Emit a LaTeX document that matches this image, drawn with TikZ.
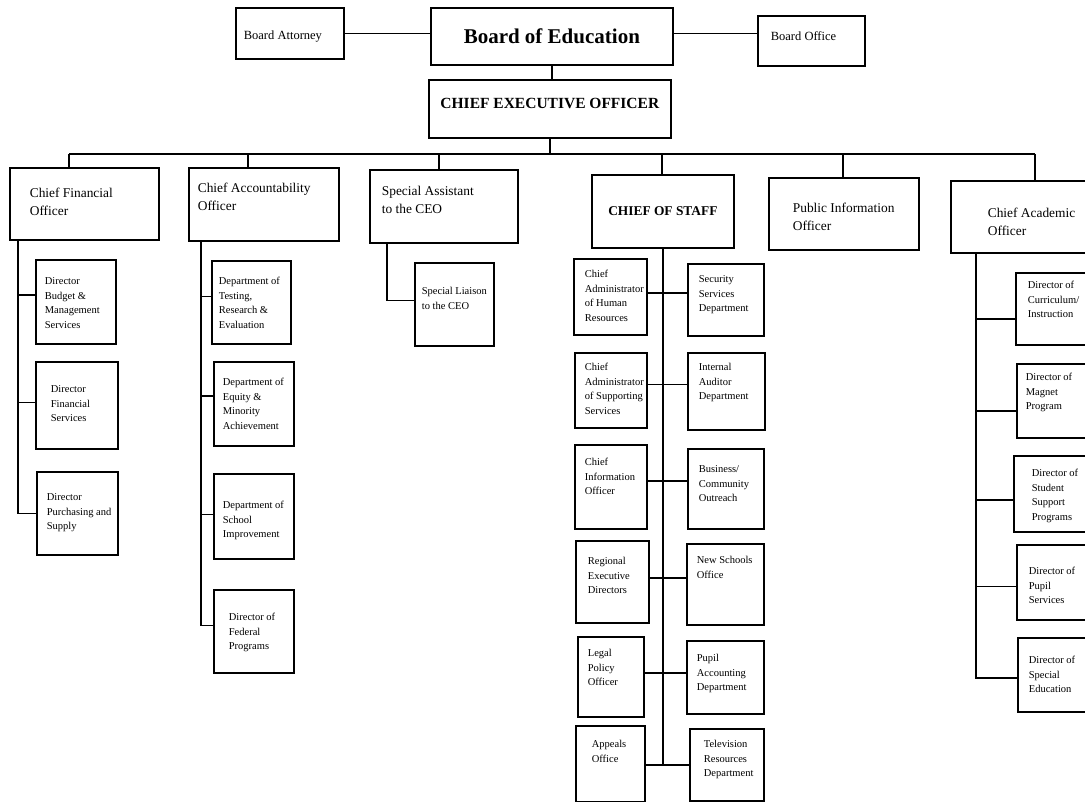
\documentclass[tikz,border=0pt]{standalone}
\usepackage{fontspec}
\setmainfont{Liberation Serif}
\usetikzlibrary{calc}

% box text: width, height, left pad, first baseline, text
\newcommand{\lcell}[5]{\vbox to #2pt{\hsize=#1pt\parindent=0pt\parskip=0pt\raggedright\leftskip=#3pt\relax
  \kern\dimexpr#4pt-\ht\strutbox\relax\strut#5\par\vss}}
\newcommand{\ccell}[4]{\vbox to #2pt{\hsize=#1pt\parindent=0pt\parskip=0pt\centering
  \kern\dimexpr#3pt-\ht\strutbox\relax\strut#4\par\vss}}

\begin{document}
\begin{tikzpicture}[
    x=1pt, y=-1pt,
    unit/.style={draw, line width=1.7pt, inner sep=0pt, anchor=north west},
    head/.style={unit, font=\fontsize{13.4}{17.5}\selectfont},
    sub/.style={unit, font=\fontsize{10.5}{14.5}\selectfont},
    link/.style={line width=1.6pt}
  ]
  \path[use as bounding box, fill=white] (0,0) rectangle (1085,802);

  % board level
  \node[unit, font=\fontsize{12.5}{15}\selectfont] (att) at (235,7) {\lcell{108}{51}{8}{32}{Board Attorney}};
  \node[unit, font=\fontsize{21}{25}\bfseries\selectfont] (boe) at (430,7) {\ccell{242}{57}{36}{Board of Education}};
  \node[unit, font=\fontsize{12.5}{15}\selectfont] (office) at (757,15) {\lcell{107}{50}{13}{25}{Board Office}};
  \node[unit, font=\fontsize{15.5}{18}\bfseries\selectfont] (ceo) at (428,79) {\ccell{242}{58}{29}{CHIEF EXECUTIVE OFFICER}};

  % officers
  \node[head] (cfo) at (9,167) {\lcell{149}{72}{20}{30}{Chief Financial\\Officer}};
  \node[head] (cao) at (188,167) {\lcell{150}{73}{9}{25}{Chief Accountability\\Officer}};
  \node[head] (sa) at (369,169) {\lcell{148}{73}{12}{26}{Special Assistant\\to the CEO}};
  \node[head, font=\fontsize{13.4}{17.5}\bfseries\selectfont] (cos) at (591,174) {\ccell{142}{73}{41}{CHIEF OF STAFF}};
  \node[head] (pio) at (768,177) {\lcell{150}{72}{24}{35}{Public Information\\Officer}};
  \node[head] (aca) at (950,180) {\lcell{145}{72}{37}{37}{Chief Academic\\Officer}};

  % finance
  \node[sub] (budget) at (35,259) {\lcell{80}{84}{9}{25}{Director\\Budget \&\\Management\\Services}};
  \node[sub] (finsvc) at (35,361) {\lcell{82}{87}{15}{31}{Director\\Financial\\Services}};
  \node[sub] (purch) at (36,471) {\lcell{81}{83}{10}{29}{Director\\Purchasing and\\Supply}};

  % accountability
  \node[sub] (testing) at (211,260) {\lcell{79}{83}{7}{24}{Department of\\Testing,\\Research \&\\Evaluation}};
  \node[sub] (equity) at (213,361) {\lcell{80}{84}{9}{24}{Department of\\Equity \&\\Minority\\Achievement}};
  \node[sub] (school) at (213,473) {\lcell{80}{85}{9}{35}{Department of\\School\\Improvement}};
  \node[sub] (federal) at (213,589) {\lcell{80}{83}{15}{31}{Director of\\Federal\\Programs}};

  \node[sub] (liaison) at (414,262) {\lcell{79}{83}{7}{32}{Special Liaison\\to the CEO}};

  % staff
  \node[sub] (hr) at (573,258) {\lcell{73}{76}{11}{19}{Chief\\Administrator\\of Human\\Resources}};
  \node[sub] (security) at (687,263) {\lcell{76}{72}{11}{19}{Security\\Services\\Department}};
  \node[sub] (support) at (574,352) {\lcell{72}{75}{10}{18}{Chief\\Administrator\\of Supporting\\Services}};
  \node[sub] (auditor) at (687,352) {\lcell{77}{77}{11}{18}{Internal\\Auditor\\Department}};
  \node[sub] (cio) at (574,444) {\lcell{72}{84}{10}{21}{Chief\\Information\\Officer}};
  \node[sub] (outreach) at (687,448) {\lcell{76}{80}{11}{24}{Business/\\Community\\Outreach}};
  \node[sub] (regional) at (575,540) {\lcell{73}{82}{12}{24}{Regional\\Executive\\Directors}};
  \node[sub] (newschools) at (686,543) {\lcell{77}{81}{10}{20}{New Schools\\Office}};
  \node[sub] (legal) at (577,636) {\lcell{66}{80}{10}{20}{Legal\\Policy\\Officer}};
  \node[sub] (pupilacc) at (686,640) {\lcell{77}{73}{10}{21}{Pupil\\Accounting\\Department}};
  \node[sub] (appeals) at (575,725) {\lcell{69}{76}{16}{22}{Appeals\\Office}};
  \node[sub] (tv) at (689,728) {\lcell{74}{72}{14}{19}{Television\\Resources\\Department}};

  % academic
  \node[sub] (curric) at (1015,272) {\lcell{80}{72}{12}{16}{Director of\\Curriculum/\\Instruction}};
  \node[sub] (magnet) at (1016,363) {\lcell{80}{74}{9}{17}{Director of\\Magnet\\Program}};
  \node[sub] (student) at (1013,455) {\lcell{80}{76}{18}{21}{Director of\\Student\\Support\\Programs}};
  \node[sub] (pupilsvc) at (1016,544) {\lcell{80}{75}{12}{30}{Director of\\Pupil\\Services}};
  \node[sub] (speced) at (1017,637) {\lcell{80}{74}{11}{26}{Director of\\Special\\Education}};

  % top links
  \draw[link] (att.east) -- (att.east -| boe.west);
  \draw[link] (boe.east |- att.east) -- (att.east -| office.west);
  \draw[link] (boe.south) -- (boe.south |- ceo.north);

  % bus and drops
  \coordinate (busL) at (69,154);
  \coordinate (busR) at (1035,154);
  \draw[link] (ceo.south) -- (ceo.south |- busL);
  \draw[link] (busL) -- (busR);
  \foreach \n/\x in {cfo/69, cao/248, sa/439, cos/662, pio/843, aca/1035} {
    \path (\x,154) coordinate (drop);
    \draw[link] (drop) -- (drop |- \n.north);
  }

  % spines
  \coordinate (cfoSp) at ([xshift=9pt]cfo.south west);
  \foreach \c/\s in {budget/7, finsvc/3, purch/0}
    \draw[link] ([yshift=\s pt]\c.west) -| (cfoSp);
  \coordinate (caoSp) at ([xshift=13pt]cao.south west);
  \foreach \c/\s in {testing/6, equity/8, school/2, federal/6}
    \draw[link] ([yshift=\s pt]\c.west) -| (caoSp);
  \coordinate (saSp) at ([xshift=18pt]sa.south west);
  \draw[link] ([yshift=4pt]liaison.west) -| (saSp);
  \foreach \l/\r/\s in {hr/security/4, support/auditor/6, cio/outreach/6, regional/newschools/4, legal/pupilacc/4, appeals/tv/-1}
    \draw[link] ([yshift=\s pt]\l.east) coordinate (h\l) -- (h\l -| \r.west);
  \draw[link] (cos.south) -- (cos.south |- happeals);
  \coordinate (acaSp) at ([xshift=26pt]aca.south west);
  \foreach \c/\s in {curric/-10, magnet/-10, student/-6, pupilsvc/-4, speced/-3}
    \draw[link] ([yshift=\s pt]\c.west) -| (acaSp);
\end{tikzpicture}
\end{document}
